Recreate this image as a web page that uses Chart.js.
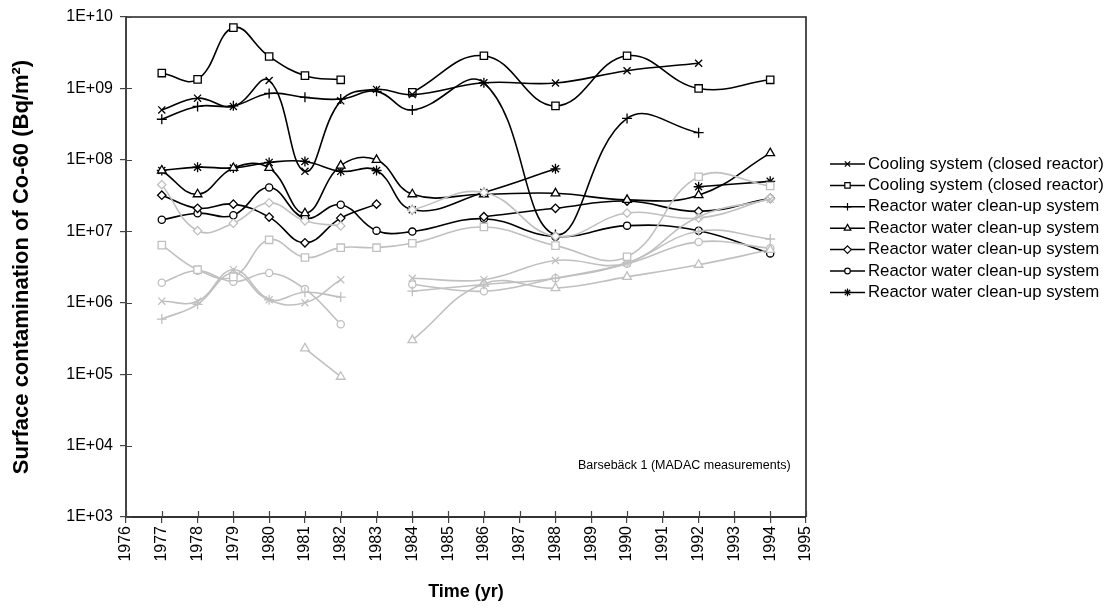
<!DOCTYPE html>
<html><head><meta charset="utf-8">
<script src="https://cdn.jsdelivr.net/npm/chart.js@4/dist/chart.umd.min.js"></script>
<style>html,body{margin:0;padding:0;background:#fff;overflow:hidden}#wrap{width:1118px;height:614px;position:relative}</style>
</head><body><div id="wrap"><canvas id="c"></canvas></div>
<script>
// ---- data ----
const years = [1977,1978,1979,1980,1981,1982,1983,1984,1986,1988,1990,1992,1994];
const xTickLabels = ['1976','1977','1978','1979','1980','1981','1982','1983','1984','1985','1986','1987','1988','1989','1990','1991','1992','1993','1994','1995'];
const yTickValues = [1e3,1e4,1e5,1e6,1e7,1e8,1e9,1e10];
const yTickLabels = ['1E+03','1E+04','1E+05','1E+06','1E+07','1E+08','1E+09','1E+10'];
const seriesNames = ['Cooling system (closed reactor)','Cooling system (closed reactor)','Reactor water clean-up system','Reactor water clean-up system','Reactor water clean-up system','Reactor water clean-up system','Reactor water clean-up system'];
// black series
const coolingCross  = [5.0e8,7.3e8,5.6e8,1.29e9,6.9e7,6.7e8,9.7e8,8.2e8,1.2e9,1.19e9,1.77e9,2.25e9,null];
const coolingSquare = [1.64e9,1.34e9,7.1e9,2.8e9,1.51e9,1.32e9,null,8.8e8,2.87e9,5.7e8,2.87e9,1.0e9,1.32e9];
const cleanupPlus   = [3.7e8,5.6e8,5.7e8,8.5e8,7.5e8,7.1e8,9.1e8,5.0e8,1.2e9,9.0e6,3.8e8,2.4e8,null];
const cleanupTri    = [7.1e7,3.3e7,7.7e7,7.7e7,1.79e7,8.3e7,1.0e8,3.3e7,3.3e7,3.4e7,2.75e7,3.2e7,1.24e8];
const cleanupDia    = [3.2e7,2.1e7,2.4e7,1.58e7,6.9e6,1.53e7,2.4e7,null,1.6e7,2.1e7,2.65e7,1.9e7,2.9e7];
const cleanupCirc   = [1.45e7,1.79e7,1.68e7,4.1e7,1.53e7,2.35e7,1.02e7,9.9e6,1.5e7,8.4e6,1.2e7,1.02e7,4.9e6];
const cleanupStar   = [7.1e7,7.9e7,7.7e7,9.2e7,9.5e7,6.9e7,7.1e7,2.0e7,3.5e7,7.5e7,null,4.2e7,5.0e7];
// grey series
const greyCross  = [1.05e6,1.05e6,2.9e6,1.1e6,1.0e6,2.1e6,null,2.2e6,2.1e6,3.9e6,3.6e6,1.6e7,2.8e7];
const greySquare = [6.4e6,2.9e6,2.3e6,7.6e6,4.3e6,5.9e6,5.9e6,6.8e6,1.15e7,6.3e6,4.4e6,5.8e7,4.3e7];
const greyPlus   = [5.9e5,9.5e5,2.6e6,1.1e6,1.4e6,1.2e6,null,1.45e6,1.8e6,2.2e6,3.6e6,1.0e7,7.8e6];
const greyTri    = [null,null,null,null,2.3e5,9.2e4,null,3.0e5,1.85e6,1.6e6,2.3e6,3.4e6,5.5e6];
const greyDia    = [4.5e7,1.02e7,1.3e7,2.5e7,1.4e7,1.19e7,null,2.0e7,3.5e7,8.5e6,1.8e7,1.53e7,2.9e7];
const greyCirc   = [1.9e6,2.8e6,1.97e6,2.6e6,1.55e6,5.0e5,null,1.8e6,1.45e6,2.2e6,3.5e6,7.1e6,5.8e6];
const annotationText = 'Barsebäck 1 (MADAC measurements)';
const xTitle = 'Time (yr)';
const yTitle = 'Surface contamination of Co-60 (Bq/m²)';

// ---- styling ----
const FONT = "'Liberation Sans', Arial, Helvetica, sans-serif";
const BLACK = '#000000', GREY = '#c0c0c0';
const markerRadius = {crossRot:5, rect:5.2, cross:5, triangle:5, rectRot:4.2, circle:3.6, star:5};
const toPts = arr => years.map((yr,i)=>({x:yr, y:arr[i]}));

function mk(label, arr, style, color, order, legend){
  return {
    label, data: toPts(arr), pointStyle: style, borderColor: color, backgroundColor: '#ffffff',
    pointBorderColor: color, pointBackgroundColor: '#ffffff', pointRadius: markerRadius[style],
    pointBorderWidth: 1.3, borderWidth: 1.6, tension: 0.42, spanGaps: false, order,
    showInLegend: legend, fill: false
  };
}
const datasets = [
  mk(seriesNames[0], coolingCross, 'crossRot', BLACK, 1, true),
  mk(seriesNames[1], coolingSquare, 'rect', BLACK, 1, true),
  mk(seriesNames[2], cleanupPlus, 'cross', BLACK, 1, true),
  mk(seriesNames[3], cleanupTri, 'triangle', BLACK, 1, true),
  mk(seriesNames[4], cleanupDia, 'rectRot', BLACK, 1, true),
  mk(seriesNames[5], cleanupCirc, 'circle', BLACK, 1, true),
  mk(seriesNames[6], cleanupStar, 'star', BLACK, 1, true),
  mk('grey ' + seriesNames[0], greyCross, 'crossRot', GREY, 0, false),
  mk('grey ' + seriesNames[1], greySquare, 'rect', GREY, 0, false),
  mk('grey ' + seriesNames[2], greyPlus, 'cross', GREY, 0, false),
  mk('grey ' + seriesNames[3], greyTri, 'triangle', GREY, 0, false),
  mk('grey ' + seriesNames[4], greyDia, 'rectRot', GREY, 0, false),
  mk('grey ' + seriesNames[5], greyCirc, 'circle', GREY, 0, false),
];

function drawMarker(ctx, style, x, y, r, color){
  ctx.save();
  ctx.strokeStyle = color; ctx.fillStyle = '#fff'; ctx.lineWidth = 1.2;
  ctx.beginPath();
  const s = r*Math.SQRT1_2;
  switch(style){
    case 'crossRot': ctx.moveTo(x-s,y-s);ctx.lineTo(x+s,y+s);ctx.moveTo(x+s,y-s);ctx.lineTo(x-s,y+s);ctx.stroke();break;
    case 'cross': ctx.moveTo(x-r,y);ctx.lineTo(x+r,y);ctx.moveTo(x,y-r);ctx.lineTo(x,y+r);ctx.stroke();break;
    case 'rect': ctx.rect(x-s,y-s,2*s,2*s);ctx.fill();ctx.stroke();break;
    case 'triangle': ctx.moveTo(x,y-r);ctx.lineTo(x+r*0.866,y+r*0.5);ctx.lineTo(x-r*0.866,y+r*0.5);ctx.closePath();ctx.fill();ctx.stroke();break;
    case 'rectRot': ctx.moveTo(x,y-r);ctx.lineTo(x+r,y);ctx.lineTo(x,y+r);ctx.lineTo(x-r,y);ctx.closePath();ctx.fill();ctx.stroke();break;
    case 'circle': ctx.arc(x,y,r,0,Math.PI*2);ctx.fill();ctx.stroke();break;
    case 'star': ctx.moveTo(x-r,y);ctx.lineTo(x+r,y);ctx.moveTo(x,y-r);ctx.lineTo(x,y+r);ctx.moveTo(x-s,y-s);ctx.lineTo(x+s,y+s);ctx.moveTo(x+s,y-s);ctx.lineTo(x-s,y+s);ctx.stroke();break;
  }
  ctx.restore();
}

const framePlugin = {
  id: 'frame',
  afterDatasetsDraw(chart){
    const {ctx, chartArea:a} = chart;
    ctx.save();
    ctx.strokeStyle = '#222'; ctx.lineWidth = 1.6;
    ctx.beginPath();
    ctx.moveTo(a.left, a.top); ctx.lineTo(a.right, a.top); ctx.lineTo(a.right, a.bottom);
    ctx.stroke();
    // inner tick marks (cross ticks)
    ctx.strokeStyle = '#444'; ctx.lineWidth = 1.2;
    const ys = chart.scales.y, xs = chart.scales.x;
    ctx.beginPath();
    yTickValues.forEach(v=>{ const py = Math.round(ys.getPixelForValue(v))+0.5; ctx.moveTo(a.left, py); ctx.lineTo(a.left+6, py); });
    for (let i=0;i<xTickLabels.length;i++){ const px = Math.round(xs.getPixelForValue(Number(xTickLabels[i])))+0.5; ctx.moveTo(px, a.bottom); ctx.lineTo(px, a.bottom-6); }
    ctx.stroke();
    ctx.restore();
  },
  afterDraw(chart){
    const ctx = chart.ctx;
    ctx.save();
    // annotation
    ctx.fillStyle = '#000'; ctx.font = '12.5px ' + FONT; ctx.textBaseline = 'middle'; ctx.textAlign = 'left';
    ctx.fillText(annotationText, 578, 466);
    // legend
    ctx.font = '16.8px ' + FONT;
    const leg = chart.data.datasets.filter(d=>d.showInLegend);
    leg.forEach((d,i)=>{
      const y = 164 + i*21.4;
      ctx.strokeStyle = '#000'; ctx.lineWidth = 1.5;
      ctx.beginPath(); ctx.moveTo(830, y); ctx.lineTo(865, y); ctx.stroke();
      drawMarker(ctx, d.pointStyle, 847.5, y, d.pointStyle==='circle'?2.8:3.8, '#000');
      ctx.fillStyle = '#000';
      ctx.fillText(d.label, 868, y);
    });
    ctx.restore();
  }
};

new Chart(document.getElementById('c'), {
  type: 'line',
  data: { datasets },
  options: {
    responsive: true, maintainAspectRatio: false, animation: false,
    layout: { padding: { top: 17, right: 312, bottom: 0, left: 0 } },
    plugins: { legend: { display: false }, tooltip: { enabled: false } },
    elements: { line: { capBezierPoints: true } },
    scales: {
      x: {
        type: 'linear', min: 1976, max: 1995,
        afterFit(s){ s.height = 97; },
        ticks: { stepSize: 1, minRotation: 90, maxRotation: 90, autoSkip: false, padding: 3, color: '#000',
          font: { family: FONT, size: 16 }, callback: (v)=> xTickLabels[v-1976] },
        grid: { drawOnChartArea: false, drawTicks: true, tickLength: 6, color: '#444', lineWidth: 1.2 },
        border: { display: true, color: '#333', width: 2 },
        title: { display: true, text: xTitle, color: '#000', font: { family: FONT, size: 18, weight: 'bold' }, padding: { top: 0, bottom: 11 } }
      },
      y: {
        type: 'logarithmic', min: 1e3, max: 1e10,
        afterFit(s){ s.width = 126; },
        afterBuildTicks(s){ s.ticks = yTickValues.map(v=>({value:v})); },
        ticks: { padding: 7, color: '#000', font: { family: FONT, size: 16 },
          callback: (v)=> { const i = yTickValues.indexOf(v); return i>=0 ? yTickLabels[i] : ''; } },
        grid: { drawOnChartArea: false, drawTicks: true, tickLength: 6, color: '#444', lineWidth: 1.2 },
        border: { display: true, color: '#444', width: 2 },
        title: { display: true, text: yTitle, color: '#000', font: { family: FONT, size: 22, weight: 'bold' }, padding: { top: 9, bottom: 0 } }
      }
    }
  },
  plugins: [framePlugin]
});
</script></body></html>
